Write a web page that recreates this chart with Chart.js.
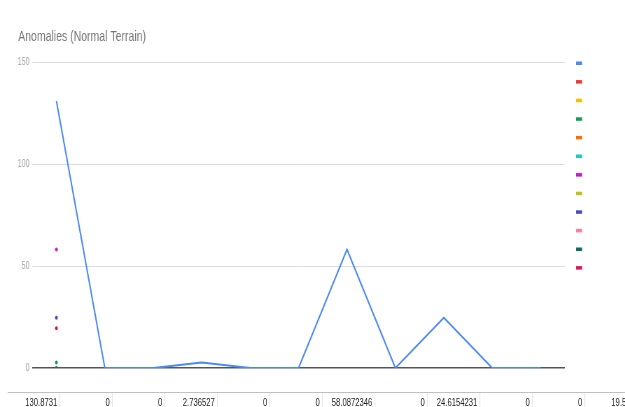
<!DOCTYPE html>
<html>
<head>
<meta charset="utf-8">
<script src="https://cdn.jsdelivr.net/npm/chart.js@4"></script>
<style>
  html, body { margin: 0; padding: 0; background: #fff; overflow: hidden; }
  #wrap { width: 893px; transform: scaleX(0.7); transform-origin: 0 0; }
  #chart { display: block; }
  #row { display: flex; margin-left: 11px; border-top: 1px solid #c0c0c0; height: 20px;
         font: 11px "Liberation Sans", Arial, sans-serif; color: #222; white-space: nowrap; }
  #row div { flex: 0 0 75px; box-sizing: border-box; text-align: right; padding: 3px 3px 0 0;
             border-right: 1px solid #e2e2e2; }
</style>
</head>
<body>
<div id="wrap">
  <canvas id="chart" width="893" height="392" style="width:893px;height:392px"></canvas>
  <div id="row"></div>
</div>
<script>
const categories = ['1', '2', '3', '4', '5', '6', '7', '8', '9', '10', '11'];
const anomalies = [130.8731, 0, 0, 2.736527, 0, 0, 58.0872346, 0, 24.6154231, 0, 0];
const rowValues = ['130.8731', '0', '0', '2.736527', '0', '0', '58.0872346', '0', '24.6154231', '0', '0', '19.523'];
// other series only hold a value in the first row
const firstRowValues = [null, null, 2.736527, null, null, 58.0872346, null, 24.6154231, null, 0, 19.523];
const seriesColors = ['#4a88f5', '#ea3a2e', '#fbbc04', '#0f9d58', '#ff6d01', '#1fc4ce',
  '#c21bc9', '#bfc21d', '#4a4ab8', '#ff7aa6', '#0d6d60', '#e0125c'];
const yTicks = [0, 50, 100, 150];

// cells under the chart
const row = document.getElementById('row');
rowValues.forEach(v => {
  const d = document.createElement('div');
  d.textContent = v;
  row.appendChild(d);
});

const datasets = [{
  label: '',
  data: anomalies,
  borderColor: seriesColors[0],
  backgroundColor: seriesColors[0],
  borderWidth: 2,
  pointRadius: 0,
  tension: 0
}];
firstRowValues.forEach((v, i) => {
  datasets.push({
    label: '',
    data: [v],
    showLine: false,
    borderColor: seriesColors[i + 1],
    backgroundColor: seriesColors[i + 1],
    pointRadius: 2,
    pointBorderWidth: 0
  });
});

// little colour chips down the right side
const chipLegend = {
  id: 'chipLegend',
  afterDraw(chart) {
    const ctx = chart.ctx;
    ctx.save();
    chart.data.datasets.forEach((ds, i) => {
      ctx.fillStyle = ds.borderColor;
      ctx.fillRect(823, 61.5 + i * 18.6, 8.5, 3.5);
    });
    ctx.restore();
  }
};

new Chart(document.getElementById('chart'), {
  type: 'line',
  data: { labels: categories, datasets: datasets },
  plugins: [chipLegend],
  options: {
    responsive: false,
    animation: false,
    layout: { padding: { left: 26, right: 86, top: 0, bottom: 24 } },
    plugins: {
      legend: { display: false },
      tooltip: { enabled: false },
      title: {
        display: true,
        text: 'Anomalies (Normal Terrain)',
        align: 'start',
        color: '#757575',
        font: { family: '"Liberation Sans", Arial, sans-serif', size: 15, weight: 'normal' },
        padding: { top: 28, bottom: 16 }
      }
    },
    scales: {
      x: { display: false, offset: true },
      y: {
        min: 0,
        max: 150,
        afterFit(scale) { scale.width = 20; },
        afterBuildTicks(scale) { scale.ticks = yTicks.map(v => ({ value: v })); },
        border: { display: false },
        grid: {
          drawTicks: false,
          color: c => c.tick.value === 0 ? '#555' : '#dcdcdc',
          lineWidth: c => c.tick.value === 0 ? 1.5 : 1
        },
        ticks: {
          padding: 4,
          color: '#9e9e9e',
          font: { family: '"Liberation Sans", Arial, sans-serif', size: 10 }
        }
      }
    }
  }
});
</script>
</body>
</html>
